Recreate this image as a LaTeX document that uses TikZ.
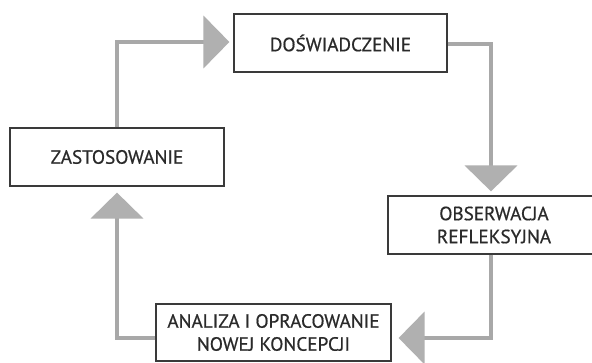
\documentclass[tikz,border=0pt]{standalone}
\usepackage{fontspec}
\setmainfont{PT Sans}
\newfontfamily\boxfont[FakeBold=0.6]{PT Sans}
\usetikzlibrary{arrows.meta}
\definecolor{linegray}{HTML}{A8A8A8}
\definecolor{trigray}{HTML}{B0B0B0}
\definecolor{boxline}{HTML}{3A3A3A}
\definecolor{txt}{HTML}{2A2A2A}
\begin{document}
\begin{tikzpicture}[x=1pt,y=-1pt,
  box/.style={draw=boxline,line width=1.2pt,fill=white,inner sep=0pt,
    text=txt,align=center,font=\boxfont\fontsize{19.2}{23}\selectfont},
  conn/.style={draw=linegray,line width=4.5pt,
    -{Triangle[width=52pt,length=26pt,color=trigray]}}]
\fill[white] (0,0) rectangle (592,363);
\useasboundingbox (0,0) rectangle (592,363);
\node[box,minimum width=213pt,minimum height=58pt] (D) at (340.5,43) {DOŚWIADCZENIE};
\node[box,minimum width=214pt,minimum height=58pt] (Z) at (117,157) {ZASTOSOWANIE};
\node[box,minimum width=212pt,minimum height=58pt] (O) at (494,225) {OBSERWACJA\\REFLEKSYJNA};
\node[box,minimum width=235pt,minimum height=57pt] (A) at (273.5,332.5) {ANALIZA I OPRACOWANIE\\NOWEJ KONCEPCJI};
\draw[conn,shorten >=4pt] ([yshift=-1pt]D.east) -| ([xshift=-3pt]O.north);
\draw[conn,shorten >=7pt] ([xshift=-3pt]O.south) |- ([yshift=-5.5pt]A.east);
\draw[conn,shorten >=6pt] ([yshift=-5.5pt]A.west) -| (Z.south);
\draw[conn,shorten >=4pt] (Z.north) |- ([yshift=1pt]D.west);
\end{tikzpicture}
\end{document}
